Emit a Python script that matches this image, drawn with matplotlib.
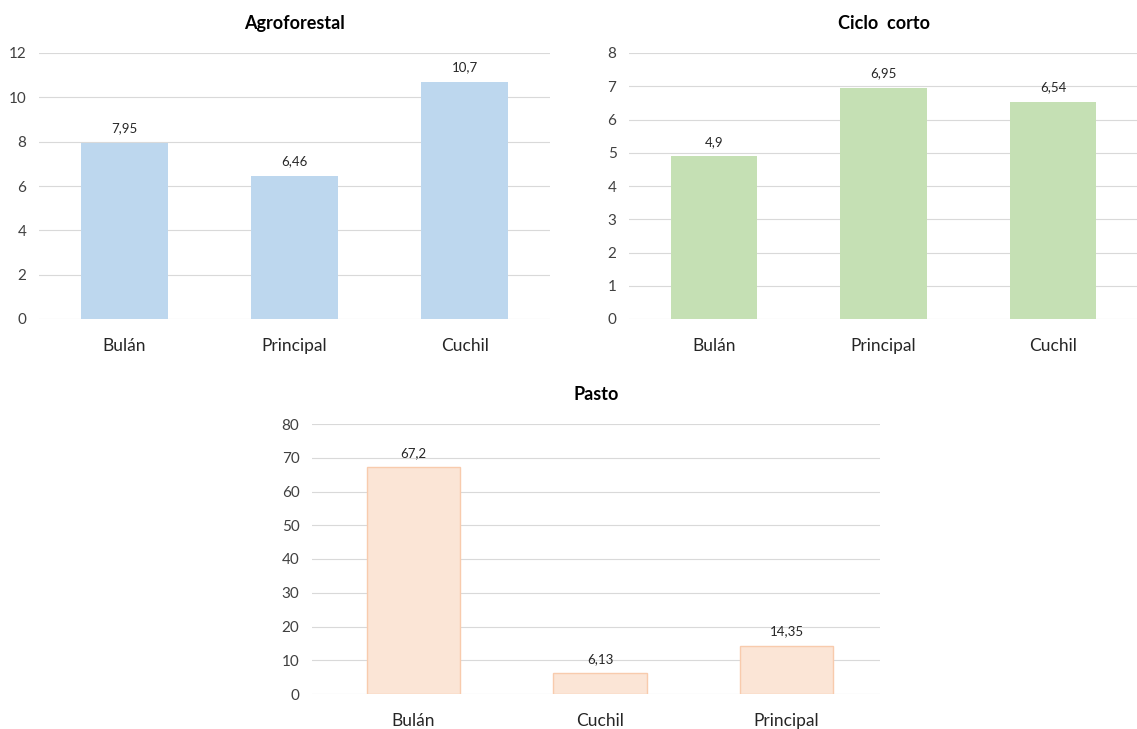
import matplotlib.pyplot as plt

plt.rcParams["font.family"] = ["Lato", "DejaVu Sans"]

# Agroforestal
agro_labels = ["Bulán", "Principal", "Cuchil"]
agro_values = [7.95, 6.46, 10.7]
agro_ticks = [0, 2, 4, 6, 8, 10, 12]

# Ciclo corto
ciclo_labels = ["Bulán", "Principal", "Cuchil"]
ciclo_values = [4.9, 6.95, 6.54]
ciclo_ticks = [0, 1, 2, 3, 4, 5, 6, 7, 8]

# Pasto
pasto_labels = ["Bulán", "Cuchil", "Principal"]
pasto_values = [67.2, 6.13, 14.35]
pasto_ticks = [0, 10, 20, 30, 40, 50, 60, 70, 80]

W, H = 1137, 729
fig = plt.figure(figsize=(W / 100, H / 100), dpi=100)


def px_axes(x0, y0, x1, y1):
    # x0,y0 top-left / x1,y1 bottom-right in pixels
    return fig.add_axes([x0 / W, 1 - y1 / H, (x1 - x0) / W, (y1 - y0) / H])


def bar_panel(ax, title, labels, values, ticks, color, edge=None,
              width=0.51, left_extra=0.0):
    x = range(len(labels))
    ax.bar(x, values, width=width, color=color,
           edgecolor=edge if edge else color, linewidth=1.0 if edge else 0,
           zorder=3)
    ax.set_xlim(-0.5 - left_extra, len(labels) - 0.5)
    ax.set_ylim(ticks[0], ticks[-1])
    ax.set_yticks(ticks)
    ax.set_yticklabels([str(t) for t in ticks], fontsize=11, color="#404040")
    ax.set_xticks(list(x))
    ax.set_xticklabels(labels, fontsize=12.5, color="#262626")
    ax.tick_params(axis="both", length=0)
    ax.tick_params(axis="y", pad=9)
    ax.tick_params(axis="x", pad=14)
    for s in ax.spines.values():
        s.set_visible(False)
    ax.grid(axis="y", color="#d9d9d9", linewidth=0.8, zorder=0)
    ax.set_axisbelow(True)
    for xi, v in zip(x, values):
        ax.annotate(str(v).replace(".", ","), (xi, v), xytext=(0, 6),
                    textcoords="offset points", ha="center", va="bottom",
                    fontsize=9.5, color="#262626")
    ax.set_title(title, fontsize=13, fontweight="bold", color="#000000", pad=17)


ax1 = px_axes(39, 53, 550, 319)
bar_panel(ax1, "Agroforestal", agro_labels, agro_values, agro_ticks, "#bdd7ee")

ax2 = px_axes(629, 53, 1138, 319)
bar_panel(ax2, "Ciclo  corto", ciclo_labels, ciclo_values, ciclo_ticks, "#c5e0b4")

ax3 = px_axes(312, 424, 880, 694)
bar_panel(ax3, "Pasto", pasto_labels, pasto_values, pasto_ticks, "#fbe5d6",
          edge="#f8cbad", width=0.5, left_extra=0.043)

fig.savefig("out.png", dpi=100, facecolor="white")
